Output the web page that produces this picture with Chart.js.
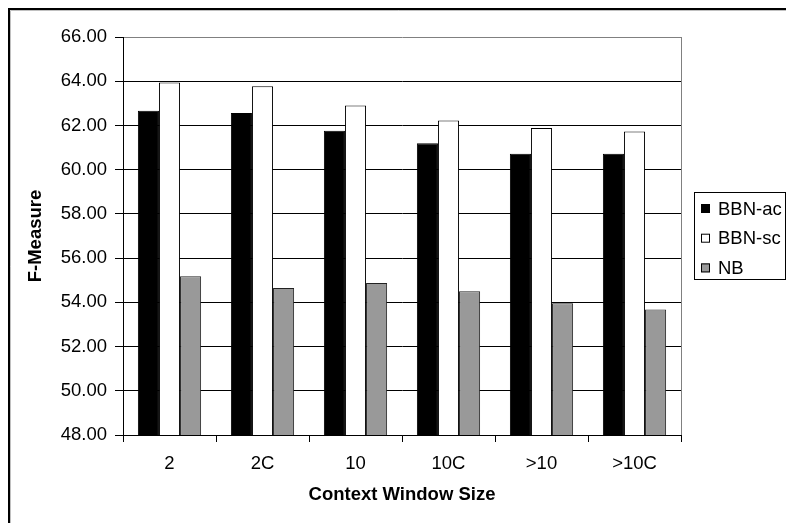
<!DOCTYPE html>
<html lang="en">
<head>
  <meta charset="UTF-8">
  <title>F-Measure by Context Window Size</title>
  <script src="https://cdn.jsdelivr.net/npm/chart.js"></script>
  <style>
    html, body {
      margin: 0;
      padding: 0;
      background: #fff;
      overflow: hidden;
    }
    #wrap {
      width: 786px;
      height: 523px;
    }
  </style>
</head>
<body>
  <div id="wrap"><canvas id="fmChart" width="786" height="523"></canvas></div>

  <script>
    const categories = ["2", "2C", "10", "10C", ">10", ">10C"];
    const bbnAc = [62.66, 62.56, 61.76, 61.20, 60.72, 60.72];
    const bbnSc = [63.94, 63.77, 62.90, 62.22, 61.89, 61.73];
    const nb    = [55.18, 54.65, 54.88, 54.50, 53.96, 53.68];
    const yTicks = [48, 50, 52, 54, 56, 58, 60, 62, 64, 66];

    const FONT = "'Liberation Sans', Arial, sans-serif";

    // outer frame + plot border + boxed legend, like the Excel original
    const frameAndLegend = {
      id: "frameAndLegend",
      beforeDraw(chart) {
        const ctx = chart.ctx;
        ctx.save();
        ctx.fillStyle = "#fff";
        ctx.fillRect(0, 0, chart.width, chart.height);
        ctx.strokeStyle = "#000";
        ctx.lineWidth = 2;
        ctx.beginPath();
        ctx.moveTo(9, chart.height);
        ctx.lineTo(9, 9);
        ctx.lineTo(chart.width, 9);
        ctx.stroke();
        ctx.strokeStyle = "#c0c0c0";
        ctx.lineWidth = 1;
        ctx.beginPath();
        ctx.moveTo(10.5, chart.height);
        ctx.lineTo(10.5, 10.5);
        ctx.lineTo(chart.width, 10.5);
        ctx.stroke();
        ctx.restore();
      },
      afterDraw(chart) {
        const ctx = chart.ctx;
        const a = chart.chartArea;
        ctx.save();
        // plot area right border
        ctx.strokeStyle = "#808080";
        ctx.lineWidth = 1;
        ctx.beginPath();
        ctx.moveTo(Math.round(a.right) + 0.5, a.top);
        ctx.lineTo(Math.round(a.right) + 0.5, a.bottom);
        ctx.stroke();

        // legend
        const lx = 694, ly = 192, lw = 91, lh = 87;
        ctx.strokeStyle = "#000";
        ctx.strokeRect(lx + 0.5, ly + 0.5, lw, lh);
        ctx.font = "18.5px " + FONT;
        ctx.textBaseline = "middle";
        ctx.fillStyle = "#000";
        chart.data.datasets.forEach((ds, i) => {
          const cy = 208.5 + i * 29.7;
          ctx.fillStyle = ds.backgroundColor;
          ctx.fillRect(701, cy - 4.5, 9, 9);
          ctx.strokeStyle = "#000";
          ctx.strokeRect(701.5, cy - 4, 8, 8);
          ctx.fillStyle = "#000";
          ctx.fillText(ds.label, 718, cy + 1);
        });
        ctx.restore();
      }
    };

    new Chart(document.getElementById("fmChart"), {
      type: "bar",
      data: {
        labels: categories,
        datasets: [
          { label: "BBN-ac", data: bbnAc, backgroundColor: "#000000", borderColor: "#000000", borderWidth: 1 },
          { label: "BBN-sc", data: bbnSc, backgroundColor: "#ffffff", borderColor: "#000000", borderWidth: 1 },
          { label: "NB", data: nb, backgroundColor: "#999999", borderColor: "#222222", borderWidth: 1 }
        ]
      },
      options: {
        responsive: false,
        animation: false,
        devicePixelRatio: 1,
        layout: { padding: { left: 0, top: 37, right: 105, bottom: 0 } },
        datasets: {
          bar: { categoryPercentage: 0.68, barPercentage: 1.0 }
        },
        plugins: {
          legend: { display: false },
          tooltip: { enabled: false }
        },
        scales: {
          x: {
            afterFit(scale) { scale.height = 88; },
            grid: {
              display: true,
              drawOnChartArea: false,
              drawTicks: true,
              tickLength: 7,
              tickColor: "#000"
            },
            border: { display: true, color: "#000", width: 1 },
            ticks: {
              color: "#000",
              padding: 11,
              font: { family: FONT, size: 18.5 }
            },
            title: {
              display: true,
              text: "Context Window Size",
              color: "#000",
              font: { family: FONT, size: 18.5, weight: "bold" },
              padding: { top: 0, bottom: 17 }
            }
          },
          y: {
            min: 48,
            max: 66,
            afterFit(scale) { scale.width = 123; },
            afterBuildTicks(scale) { scale.ticks = yTicks.map(v => ({ value: v })); },
            grid: {
              color: ctx => (ctx.tick && ctx.tick.value === 66 ? "#808080" : "#000"),
              lineWidth: 1,
              tickLength: 8,
              tickColor: "#000"
            },
            border: { display: true, color: "#000", width: 1 },
            ticks: {
              color: "#000",
              padding: 8,
              font: { family: FONT, size: 18.5 },
              callback: v => Number(v).toFixed(2)
            },
            title: {
              display: true,
              text: "F-Measure",
              color: "#000",
              font: { family: FONT, size: 18.5, weight: "bold" },
              padding: { top: 24.5, bottom: 0 }
            }
          }
        }
      },
      plugins: [frameAndLegend]
    });
  </script>
</body>
</html>
